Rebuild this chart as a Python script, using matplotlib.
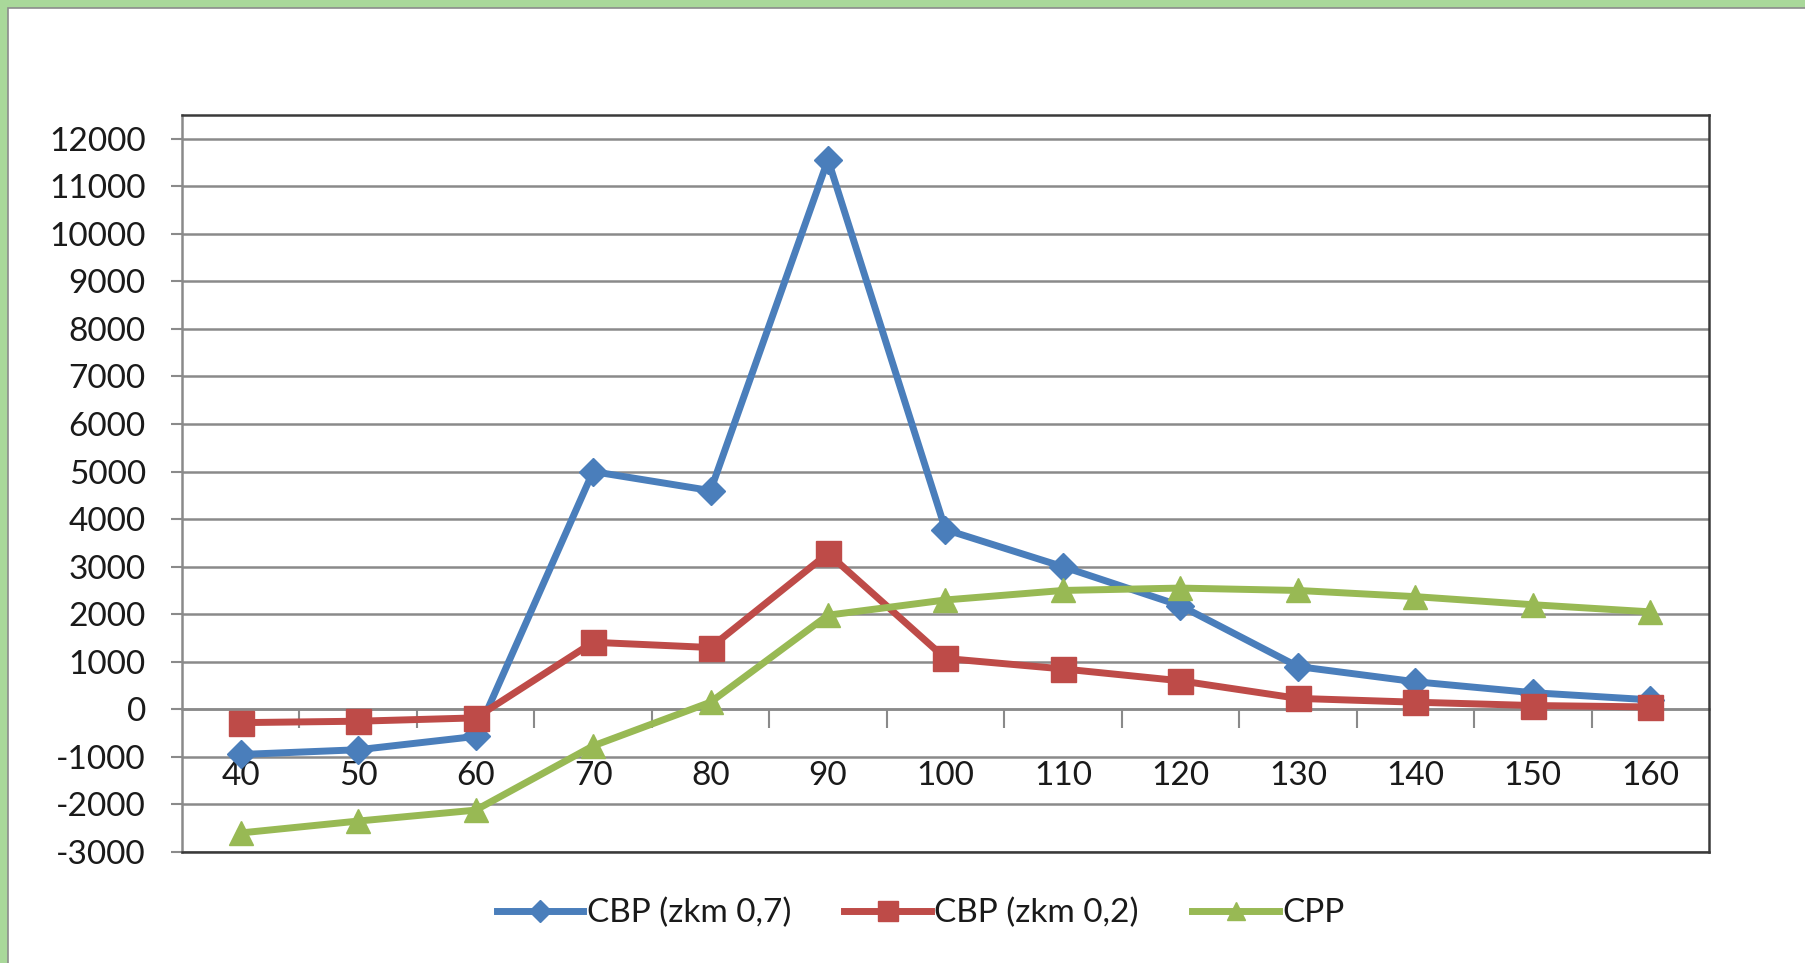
import matplotlib.pyplot as plt
from matplotlib.patches import Rectangle
from matplotlib.ticker import MultipleLocator

plt.rcParams['font.family'] = ['Lato', 'DejaVu Sans']
plt.rcParams['axes.unicode_minus'] = False

speeds = [40, 50, 60, 70, 80, 90, 100, 110, 120, 130, 140, 150, 160]
cbp_07 = [-950, -850, -570, 5000, 4600, 11560, 3780, 3000, 2180, 900, 580, 350, 200]
cbp_02 = [-280, -250, -180, 1410, 1300, 3280, 1070, 850, 600, 230, 150, 80, 50]
cpp = [-2600, -2350, -2120, -770, 150, 1980, 2300, 2500, 2550, 2500, 2370, 2200, 2050]

series_names = ['CBP (zkm 0,7)', 'CBP (zkm 0,2)', 'CPP']
colors = ['#4A7EBB', '#BE4B48', '#98B954']
markers = ['D', 's', '^']
msizes = [14, 18, 17]

fig = plt.figure(figsize=(18.05, 9.63), dpi=100)

# green frame on top/left, white panel with thin grey edge
fig.patches.append(Rectangle((0, 0), 1, 1, transform=fig.transFigure,
                             facecolor='#A9D89A', edgecolor='none', zorder=-10))
fig.patches.append(Rectangle((8 / 1805, -0.01), 1.01, 1 - 8 / 963 + 0.01,
                             transform=fig.transFigure, facecolor='white',
                             edgecolor='#8C8C8C', linewidth=1.2, zorder=-9))

ax = fig.add_axes([0.1008, 0.1153, 0.8460, 0.7653])
x = list(range(len(speeds)))
data = [cbp_07, cbp_02, cpp]
for vals, name, c, m, ms in zip(data, series_names, colors, markers, msizes):
    ax.plot(x, vals, color=c, linewidth=5, marker=m, markersize=ms,
            markeredgecolor=c, label=name, zorder=3)

ax.set_xlim(-0.5, len(speeds) - 0.5)
ax.set_ylim(-3000, 12500)
ax.yaxis.set_major_locator(MultipleLocator(1000))
ax.grid(axis='y', color='#8A8A8A', linewidth=1.8)
ax.set_axisbelow(True)
ax.tick_params(axis='y', length=8, width=1.5, color='#8A8A8A', pad=18,
               labelsize=24, labelcolor='#1A1A1A')
ax.set_xticks([])
for s in ['top', 'right', 'bottom']:
    ax.spines[s].set_color('#3A3A3A')
    ax.spines[s].set_linewidth(1.8)
ax.spines['left'].set_color('#8A8A8A')
ax.spines['left'].set_linewidth(1.8)

# category axis crossing at zero
y0, y1 = ax.get_ylim()
sec = ax.secondary_xaxis((0 - y0) / (y1 - y0))
sec.set_xticks(x)
sec.set_xticklabels([str(s) for s in speeds])
sec.set_xticks([i + 0.5 for i in x[:-1]], minor=True)
sec.tick_params(axis='x', which='major', length=0, pad=37, labelsize=24,
                labelcolor='#1A1A1A')
sec.tick_params(axis='x', which='minor', length=14, width=1.5, color='#8A8A8A',
                direction='out')
sec.spines['bottom'].set_color('#8A8A8A')
sec.spines['bottom'].set_linewidth(1.8)

fig.legend(loc='lower center', bbox_to_anchor=(0.51, 0.005), ncol=3,
           frameon=False, fontsize=24, handlelength=2.6, handletextpad=0.1,
           columnspacing=1.6, labelcolor='#1A1A1A', markerscale=0.8)

fig.savefig('out.png', dpi=100)
